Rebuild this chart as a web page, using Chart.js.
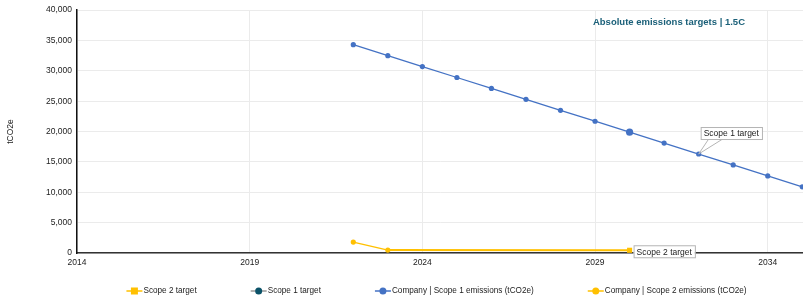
<!DOCTYPE html>
<html>
<head>
  <style>
    html, body { margin: 0; padding: 0; background: #fff; overflow: hidden; }
    .chart-container { position: relative; width: 808px; height: 302px; }
  </style>
  <script src="https://cdn.jsdelivr.net/npm/chart.js"></script>
</head>
<body>
  <div class="chart-container">
    <canvas id="targetsChart"></canvas>
  </div>

  <script>
    // data
    const years = [2022, 2023, 2024, 2025, 2026, 2027, 2028, 2029, 2030, 2031, 2032, 2033, 2034, 2035];
    const scope1Emissions = [34300, 32500, 30700, 28900, 27100, 25300, 23500, 21700, 19900, 18100, 16300, 14500, 12700, 10900];
    const scope2Years = [2022, 2023];
    const scope2Emissions = [1800, 480];
    const scope1TargetYears = [2030];
    const scope1Target = [19900];
    const scope2TargetYears = [2023, 2030];
    const scope2Target = [480, 450];
    const xTicks = [2014, 2019, 2024, 2029, 2034];
    const yTicks = [0, 5000, 10000, 15000, 20000, 25000, 30000, 35000, 40000];
    const chartTitle = 'Absolute emissions targets | 1.5C';
    const annotations = [
      { label: 'Scope 1 target', year: 2032, value: 16300, kind: 'callout' },
      { label: 'Scope 2 target', year: 2030, value: 450, kind: 'side' }
    ];

    const BLUE = '#4472c4';
    const YELLOW = '#ffc000';
    const TEAL = '#0b5268';
    const FONT = '"Liberation Sans", Arial, sans-serif';

    const toPoints = (xs, ys) => xs.map((x, i) => ({ x: x, y: ys[i] }));

    const legendItems = [
      { text: 'Scope 2 target', line: YELLOW, marker: YELLOW, shape: 'rect' },
      { text: 'Scope 1 target', line: '#999', marker: TEAL, shape: 'circle' },
      { text: 'Company | Scope 1 emissions (tCO2e)', line: BLUE, marker: BLUE, shape: 'circle' },
      { text: 'Company | Scope 2 emissions (tCO2e)', line: YELLOW, marker: YELLOW, shape: 'circle' }
    ];

    const extrasPlugin = {
      id: 'extras',
      afterDatasetsDraw(chart) {
        const ctx = chart.ctx;
        const area = chart.chartArea;
        const xs = chart.scales.x, ys = chart.scales.y;
        ctx.save();

        // title inside plot
        ctx.font = 'bold 9.5px ' + FONT;
        ctx.fillStyle = '#1b6079';
        ctx.textAlign = 'right';
        ctx.textBaseline = 'middle';
        ctx.fillText(chartTitle, area.right - 59, area.top + 12);

        // annotations
        ctx.font = '8.5px ' + FONT;
        ctx.textAlign = 'left';
        annotations.forEach(a => {
          const px = xs.getPixelForValue(a.year);
          const py = ys.getPixelForValue(a.value);
          const w = ctx.measureText(a.label).width + 6;
          const h = 12;
          let bx, by;
          if (a.kind === 'callout') {
            bx = px + 2; by = py - 27;
            ctx.strokeStyle = '#b5b5b5';
            ctx.lineWidth = 1;
            ctx.beginPath();
            ctx.moveTo(bx + 8, by + h);
            ctx.lineTo(px, py);
            ctx.lineTo(bx + 22, by + h);
            ctx.stroke();
          } else {
            bx = px + 4; by = py - 5;
          }
          ctx.fillStyle = '#fff';
          ctx.fillRect(bx, by, w, h);
          ctx.strokeStyle = '#b5b5b5';
          ctx.strokeRect(bx + 0.5, by + 0.5, w, h);
          ctx.fillStyle = '#222';
          ctx.fillText(a.label, bx + 3, by + h / 2 + 1);
        });
        ctx.restore();
      },
      afterDraw(chart) {
        const ctx = chart.ctx;
        const area = chart.chartArea;
        ctx.save();
        ctx.font = '8.2px ' + FONT;
        ctx.textBaseline = 'middle';
        ctx.textAlign = 'left';
        const gap = 54, lineW = 16;
        const widths = legendItems.map(it => lineW + 1 + ctx.measureText(it.text).width);
        const total = widths.reduce((s, w) => s + w, 0) + gap * (legendItems.length - 1);
        let x = (area.left + area.right) / 2 - 4 - total / 2;
        const y = 291;
        legendItems.forEach((it, i) => {
          ctx.strokeStyle = it.line;
          ctx.lineWidth = 1.5;
          ctx.beginPath();
          ctx.moveTo(x, y);
          ctx.lineTo(x + lineW, y);
          ctx.stroke();
          ctx.fillStyle = it.marker;
          if (it.shape === 'rect') {
            ctx.fillRect(x + lineW / 2 - 3.5, y - 3.5, 7, 7);
          } else {
            ctx.beginPath();
            ctx.arc(x + lineW / 2, y, 3.5, 0, Math.PI * 2);
            ctx.fill();
          }
          ctx.fillStyle = '#222';
          ctx.fillText(it.text, x + lineW + 1, y);
          x += widths[i] + gap;
        });
        ctx.restore();
      }
    };

    const ctx = document.getElementById('targetsChart').getContext('2d');
    new Chart(ctx, {
      type: 'scatter',
      data: {
        datasets: [
          {
            label: 'Company | Scope 1 emissions (tCO2e)',
            data: toPoints(years, scope1Emissions),
            showLine: true,
            borderColor: BLUE,
            backgroundColor: BLUE,
            borderWidth: 1.3,
            pointRadius: 2.6,
            pointBorderWidth: 0,
            order: 1
          },
          {
            label: 'Scope 1 target',
            data: toPoints(scope1TargetYears, scope1Target),
            showLine: false,
            borderColor: BLUE,
            backgroundColor: BLUE,
            pointRadius: 3.6,
            pointBorderWidth: 0,
            order: 2
          },
          {
            label: 'Scope 2 target',
            data: toPoints(scope2TargetYears, scope2Target),
            showLine: true,
            borderColor: YELLOW,
            backgroundColor: YELLOW,
            borderWidth: 2,
            pointStyle: 'rect',
            pointRadius: [0, 3.6],
            pointBorderWidth: 0,
            order: 3
          },
          {
            label: 'Company | Scope 2 emissions (tCO2e)',
            data: toPoints(scope2Years, scope2Emissions),
            showLine: true,
            borderColor: YELLOW,
            backgroundColor: YELLOW,
            borderWidth: 1.3,
            pointRadius: 2.6,
            pointBorderWidth: 0,
            order: 0
          }
        ]
      },
      options: {
        responsive: true,
        maintainAspectRatio: false,
        animation: false,
        layout: { padding: { top: 8, right: 0, bottom: 0, left: 0 } },
        plugins: {
          legend: { display: false },
          tooltip: { enabled: false }
        },
        scales: {
          x: {
            type: 'linear',
            min: 2014,
            max: 2035.05,
            afterBuildTicks: s => { s.ticks = xTicks.map(v => ({ value: v })); },
            afterFit: s => { s.height = 49; s.paddingRight = 0; },
            grid: { color: '#ebebeb', drawTicks: false },
            border: { color: '#333', width: 1.5 },
            ticks: {
              padding: 5,
              maxRotation: 0,
              color: '#222',
              font: { family: FONT, size: 8.5 },
              callback: v => String(v)
            }
          },
          y: {
            min: 0,
            max: 40000,
            afterBuildTicks: s => { s.ticks = yTicks.map(v => ({ value: v })); },
            afterFit: s => { s.width = 77; },
            grid: { color: '#ebebeb', drawTicks: false },
            border: { color: '#111', width: 1.5 },
            ticks: {
              padding: 5,
              color: '#222',
              font: { family: FONT, size: 8.5 },
              callback: v => v.toLocaleString('en-US')
            },
            title: {
              display: true,
              text: 'tCO2e',
              color: '#222',
              font: { family: FONT, size: 8.5 },
              padding: { top: 6, bottom: 0 }
            }
          }
        }
      },
      plugins: [extrasPlugin]
    });
  </script>
</body>
</html>
